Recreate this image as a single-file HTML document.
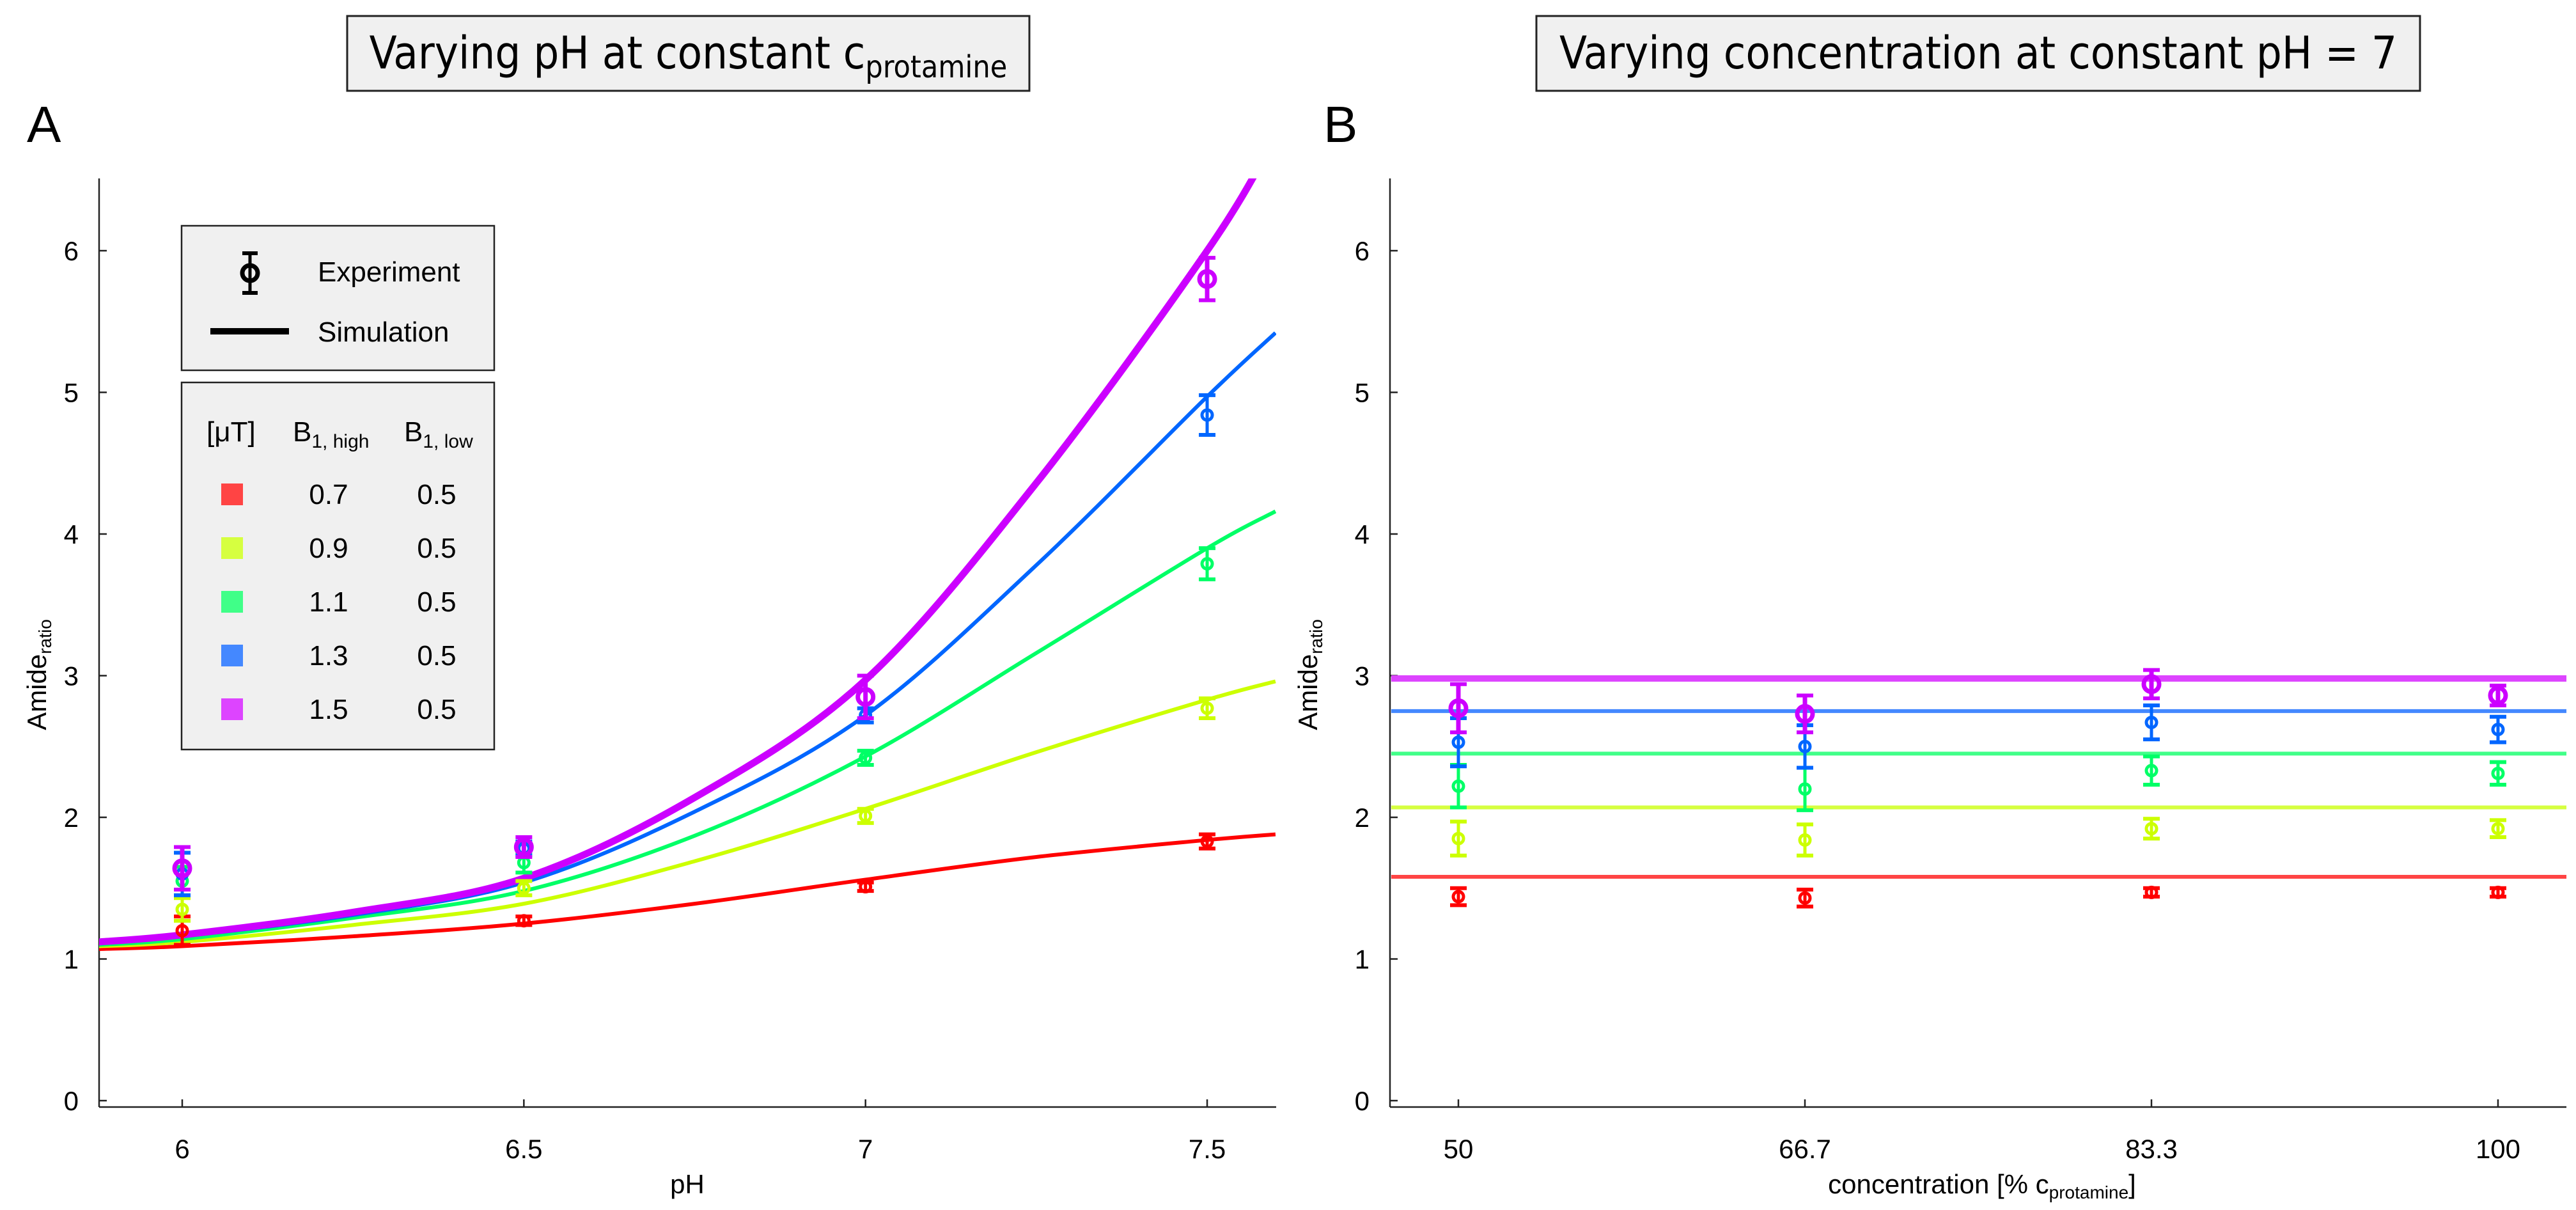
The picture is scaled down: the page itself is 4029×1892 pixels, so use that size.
<!DOCTYPE html>
<html><head><meta charset="utf-8"><style>
html,body{margin:0;padding:0;background:#fff}
svg{display:block}
text{font-family:"Liberation Sans",sans-serif}
</style></head><body>
<svg id="fig" width="4029" height="1892" viewBox="0 0 4029 1892" xmlns="http://www.w3.org/2000/svg">
<g id="gA"></g>
<g id="gB"></g>
</svg>
<script>
// ---------- data ----------
const seriesNames = ["0.7","0.9","1.1","1.3","1.5"];
const colors = ["#ff0000","#ccff00","#00ff66","#0066ff","#cc00ff"];
const lightColors = ["#ff4444","#d6ff40","#40ff88","#4488ff","#dd44ff"];
const phTicks = [6, 6.5, 7, 7.5];
const phTickLabels = ["6","6.5","7","7.5"];
const yTicks = [0,1,2,3,4,5,6];
// simulation curves (panel A)
const simPH = [5.878, 6, 6.25, 6.5, 6.75, 7, 7.25, 7.5, 7.6];
const simRed    = [1.07, 1.09, 1.16, 1.25, 1.39, 1.56, 1.72, 1.84, 1.88];
const simYellow = [1.09, 1.12, 1.24, 1.39, 1.69, 2.06, 2.46, 2.83, 2.96];
const simGreen  = [1.10, 1.14, 1.29, 1.48, 1.87, 2.43, 3.16, 3.90, 4.16];
const simBlue   = [1.11, 1.16, 1.31, 1.54, 2.04, 2.72, 3.78, 4.97, 5.42];
const simPurple = [1.12, 1.17, 1.33, 1.57, 2.14, 2.97, 4.36, 6.00, 6.80];
// experiments (panel A)
const expRed    = [1.20, 1.27, 1.51, 1.83];
const expRedErr = [0.10, 0.03, 0.03, 0.05];
const expYellow = [1.35, 1.50, 2.01, 2.77];
const expYellowErr = [0.08, 0.05, 0.05, 0.07];
const expGreen  = [1.55, 1.68, 2.42, 3.79];
const expGreenErr = [0.10, 0.07, 0.05, 0.11];
const expBlue   = [1.60, 1.78, 2.72, 4.84];
const expBlueErr = [0.15, 0.05, 0.05, 0.14];
const expPurple = [1.64, 1.79, 2.85, 5.80];
const expPurpleErr = [0.15, 0.07, 0.15, 0.15];
// panel B
const concLabels = ["50","66.7","83.3","100"];
const bRed = [1.44, 1.43, 1.47, 1.47];
const bRedErr = [0.06, 0.06, 0.03, 0.03];
const bYellow = [1.85, 1.84, 1.92, 1.92];
const bYellowErr = [0.12, 0.11, 0.07, 0.06];
const bGreen = [2.22, 2.20, 2.33, 2.31];
const bGreenErr = [0.15, 0.15, 0.10, 0.08];
const bBlue = [2.53, 2.50, 2.67, 2.62];
const bBlueErr = [0.17, 0.15, 0.12, 0.09];
const bPurple = [2.77, 2.73, 2.94, 2.86];
const bPurpleErr = [0.17, 0.13, 0.10, 0.07];
const bSim = [1.58, 2.07, 2.45, 2.75, 2.98];

// ---------- helpers ----------
const NS = "http://www.w3.org/2000/svg";
function mk(parent, tag, attrs, txt){
  const e = document.createElementNS(NS, tag);
  for (const k in attrs) e.setAttribute(k, attrs[k]);
  if (txt !== undefined) e.textContent = txt;
  parent.appendChild(e);
  return e;
}
const Y0 = 1721, YU = 221.5;
const yS = v => Y0 - v*YU;
const xA = v => 285 + (v-6)*1068.7;
const xB = i => 2281 + i*542;

function smoothPath(pts){
  let d = "M"+pts[0][0]+","+pts[0][1];
  for (let i=0;i<pts.length-1;i++){
    const p0=pts[Math.max(0,i-1)], p1=pts[i], p2=pts[i+1], p3=pts[Math.min(pts.length-1,i+2)];
    const c1=[p1[0]+(p2[0]-p0[0])/6, p1[1]+(p2[1]-p0[1])/6];
    const c2=[p2[0]-(p3[0]-p1[0])/6, p2[1]-(p3[1]-p1[1])/6];
    d += " C"+c1[0]+","+c1[1]+" "+c2[0]+","+c2[1]+" "+p2[0]+","+p2[1];
  }
  return d;
}
function errPoint(g, x, v, err, color, big){
  const w = big?7:5, r = big?12:8, cap = 13;
  const grp = mk(g,"g",{});
  
  
  mk(grp,"line",{x1:x,x2:x,y1:yS(v-err),y2:yS(v+err),stroke:color,"stroke-width":w});
  mk(grp,"line",{x1:x-cap,x2:x+cap,y1:yS(v-err),y2:yS(v-err),stroke:color,"stroke-width":6});
  mk(grp,"line",{x1:x-cap,x2:x+cap,y1:yS(v+err),y2:yS(v+err),stroke:color,"stroke-width":6});
  mk(grp,"circle",{cx:x,cy:yS(v),r:r,fill:"none",stroke:color,"stroke-width":w});
}
function axes(g, left, right, top, bottom, name){
  const ax = mk(g,"g",{});
  
  
  mk(ax,"line",{x1:left,x2:left,y1:top,y2:bottom,stroke:"#222","stroke-width":2.5});
  mk(ax,"line",{x1:left,x2:right,y1:bottom,y2:bottom,stroke:"#222","stroke-width":2.5});
  yTicks.forEach(t=>{
    mk(ax,"line",{x1:left,x2:left+12,y1:yS(t),y2:yS(t),stroke:"#222","stroke-width":2.5});
    const tl = mk(ax,"text",{x:left-32,y:yS(t)+15,"font-size":42,"text-anchor":"end",fill:"#000"},String(t));
    
    
  });
}
function titleBox(x1,x2,label,sub,name){
  const g = mk(document.getElementById("fig"),"g",{});
  
  
  mk(g,"rect",{x:x1,y:25,width:x2-x1,height:117,fill:"#f0f0f0",stroke:"#222","stroke-width":3});
  const t = mk(g,"text",{x:(x1+x2)/2,y:107,"font-size":70,"text-anchor":"middle",fill:"#000"});
  t.style.fontFamily = '"DejaVu Sans Condensed","DejaVu Sans","Liberation Sans",sans-serif';
  mk(t,"tspan",{},label);
  if (sub) mk(t,"tspan",{"font-size":48,dy:14},sub);
}

// ---------- panel A ----------
const gA = document.getElementById("gA");
titleBox(543,1610,"Varying pH at constant c","protamine","title-a");
titleBox(2403,3785,"Varying concentration at constant pH = 7",null,"title-b");
const la = mk(gA,"text",{x:42,y:222,"font-size":80,fill:"#000"},"A");
 
axes(gA,155,1996,279,1731,"axes-a");
phTicks.forEach((t,i)=>{
  mk(gA,"line",{x1:xA(t),x2:xA(t),y1:1731,y2:1719,stroke:"#222","stroke-width":2.5});
  const tl = mk(gA,"text",{x:xA(t),y:1811,"font-size":42,"text-anchor":"middle",fill:"#000"},phTickLabels[i]);
   
});
const xl = mk(gA,"text",{x:1075,y:1866,"font-size":42,"text-anchor":"middle",fill:"#000"},"pH");
 
function ylab(g,x){
  const t = mk(g,"text",{transform:"translate("+x+",1055) rotate(-90)","font-size":42,"text-anchor":"middle",fill:"#000"});
   
  mk(t,"tspan",{},"Amide"); mk(t,"tspan",{"font-size":28,dy:8},"ratio");
}
ylab(gA,72);

const sims = [simRed, simYellow, simGreen, simBlue, simPurple];
const exps = [expRed, expYellow, expGreen, expBlue, expPurple];
const expErrs = [expRedErr, expYellowErr, expGreenErr, expBlueErr, expPurpleErr];
mk(gA,"clipPath",{id:"clipA"});
mk(document.getElementById("clipA"),"rect",{x:155,y:279,width:1841,height:1452});
const curves = mk(gA,"g",{"clip-path":"url(#clipA)"});
sims.forEach((s,k)=>{
  const p = mk(curves,"path",{d:smoothPath(simPH.map((x,i)=>[xA(x),yS(s[i])])),fill:"none",stroke:colors[k],"stroke-width":k===4?11:6});
  
  
});
exps.forEach((e,k)=>{
  e.forEach((v,i)=>errPoint(gA,xA(phTicks[i]),v,expErrs[k][i],colors[k],k===4));
});

// legend
const lg = mk(gA,"g",{});
 
mk(lg,"rect",{x:284,y:353,width:489,height:226,fill:"#f0f0f0",stroke:"#222","stroke-width":2.5});
mk(lg,"line",{x1:391,x2:391,y1:396,y2:458,stroke:"#000","stroke-width":5});
mk(lg,"line",{x1:379,x2:403,y1:396,y2:396,stroke:"#000","stroke-width":6});
mk(lg,"line",{x1:379,x2:403,y1:458,y2:458,stroke:"#000","stroke-width":6});
mk(lg,"circle",{cx:391,cy:427,r:12,fill:"none",stroke:"#000","stroke-width":7});
mk(lg,"text",{x:497,y:440,"font-size":44,fill:"#000"},"Experiment");
mk(lg,"line",{x1:329,x2:452,y1:518,y2:518,stroke:"#000","stroke-width":10});
mk(lg,"text",{x:497,y:534,"font-size":44,fill:"#000"},"Simulation");
mk(lg,"rect",{x:284,y:598,width:489,height:574,fill:"#f0f0f0",stroke:"#222","stroke-width":2.5});
mk(lg,"text",{x:323,y:690,"font-size":44,fill:"#000"},"[μT]");
const h1 = mk(lg,"text",{x:458,y:690,"font-size":44,fill:"#000"});
mk(h1,"tspan",{},"B"); mk(h1,"tspan",{"font-size":30,dy:10},"1, high");
const h2 = mk(lg,"text",{x:632,y:690,"font-size":44,fill:"#000"});
mk(h2,"tspan",{},"B"); mk(h2,"tspan",{"font-size":30,dy:10},"1, low");
const rowsY = [773,857,941,1025,1109];
seriesNames.forEach((n,k)=>{
  const r = mk(lg,"rect",{x:346,y:rowsY[k]-17,width:34,height:34,fill:lightColors[k]});
   
  mk(lg,"text",{x:514,y:rowsY[k]+15,"font-size":44,"text-anchor":"middle",fill:"#000"},n);
  mk(lg,"text",{x:683,y:rowsY[k]+15,"font-size":44,"text-anchor":"middle",fill:"#000"},"0.5");
});

// ---------- panel B ----------
const gB = document.getElementById("gB");
const lb = mk(gB,"text",{x:2070,y:222,"font-size":80,fill:"#000"},"B");
 
axes(gB,2174,4014,279,1731,"axes-b");
concLabels.forEach((c,i)=>{
  mk(gB,"line",{x1:xB(i),x2:xB(i),y1:1731,y2:1719,stroke:"#222","stroke-width":2.5});
  const tl = mk(gB,"text",{x:xB(i),y:1811,"font-size":42,"text-anchor":"middle",fill:"#000"},c);
   
});
const xlb = mk(gB,"text",{x:3100,y:1866,"font-size":42,"text-anchor":"middle",fill:"#000"});
 
mk(xlb,"tspan",{},"concentration [% c"); mk(xlb,"tspan",{"font-size":28,dy:8},"protamine"); mk(xlb,"tspan",{dy:-8},"]");
ylab(gB,2060);
bSim.forEach((v,k)=>{
  const l = mk(gB,"line",{x1:2176,x2:4014,y1:yS(v),y2:yS(v),stroke:lightColors[k],"stroke-width":k===4?10:6});
   
});
const bExps = [bRed,bYellow,bGreen,bBlue,bPurple];
const bErrs = [bRedErr,bYellowErr,bGreenErr,bBlueErr,bPurpleErr];
bExps.forEach((e,k)=>{
  e.forEach((v,i)=>errPoint(gB,xB(i),v,bErrs[k][i],colors[k],k===4));
});
</script>
</body></html>
